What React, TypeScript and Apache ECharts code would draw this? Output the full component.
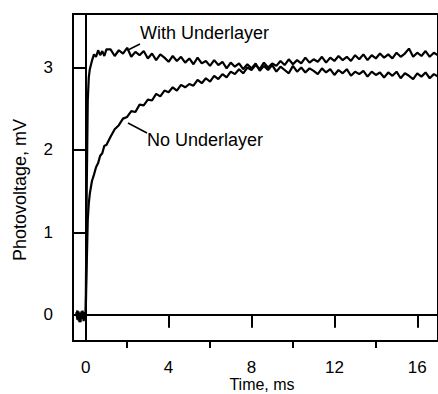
import React, { useEffect, useRef } from "react";
import * as echarts from "echarts";

const timeMs = [
  -0.45, -0.4, -0.35, -0.3, -0.25, -0.2, -0.15, -0.1, -0.05, 0,
  0.05, 0.1, 0.15, 0.2, 0.3, 0.4, 0.5, 0.6, 0.7, 0.8, 0.9, 1.0,
  1.2, 1.4, 1.6, 1.8, 2.0, 2.2, 2.4, 2.6, 2.8, 3.0,
  3.2, 3.4, 3.6, 3.8, 4.0, 4.2, 4.4, 4.6, 4.8, 5.0,
  5.2, 5.4, 5.6, 5.8, 6.0, 6.2, 6.4, 6.6, 6.8, 7.0,
  7.2, 7.4, 7.6, 7.8, 8.0, 8.2, 8.4, 8.6, 8.8, 9.0,
  9.2, 9.4, 9.6, 9.8, 10.0, 10.2, 10.4, 10.6, 10.8, 11.0,
  11.2, 11.4, 11.6, 11.8, 12.0, 12.2, 12.4, 12.6, 12.8, 13.0,
  13.2, 13.4, 13.6, 13.8, 14.0, 14.2, 14.4, 14.6, 14.8, 15.0,
  15.2, 15.4, 15.6, 15.8, 16.0, 16.2, 16.4, 16.6, 16.8, 17.0,
];

const withUnderlayer = [
  0.03, -0.06, 0.04, -0.09, 0.02, -0.05, 0.05, -0.08, 0.03, 0.0,
  1.5, 2.6, 2.88, 2.98, 3.08, 3.16, 3.13, 3.21, 3.15, 3.2, 3.14, 3.22,
  3.22, 3.14, 3.21, 3.17, 3.24, 3.13, 3.19, 3.15, 3.2, 3.11,
  3.17, 3.09, 3.16, 3.12, 3.07, 3.14, 3.08, 3.13, 3.06, 3.11,
  3.04, 3.12, 3.05, 3.08, 3.02, 3.09, 3.03, 3.07, 2.99, 3.06,
  3.01, 3.05, 2.98, 3.04, 2.99, 3.05, 2.96, 3.02, 2.97, 3.03,
  2.95, 3.01, 2.97, 2.93, 3.02, 2.95, 3.0, 2.94, 2.99, 2.96,
  2.92, 2.99, 2.94, 2.98, 2.91, 2.97, 2.93, 2.98, 2.9, 2.95,
  2.92, 2.96, 2.89, 2.95, 2.91, 2.94, 2.88, 2.94, 2.9, 2.95,
  2.87, 2.93, 2.9, 2.86, 2.93, 2.89, 2.94, 2.87, 2.92, 2.89,
];

const noUnderlayer = [
  -0.02, 0.05, -0.07, 0.02, -0.09, 0.04, -0.04, 0.03, -0.06, 0.0,
  0.6, 1.15, 1.35, 1.47, 1.62, 1.7, 1.79, 1.84, 1.93, 1.96, 2.05, 2.06,
  2.16, 2.25, 2.3, 2.38, 2.4, 2.47, 2.46, 2.55, 2.54, 2.61,
  2.6, 2.68, 2.65, 2.72, 2.7, 2.76, 2.72, 2.79, 2.76, 2.8,
  2.78, 2.85, 2.81, 2.87, 2.83, 2.9, 2.86, 2.92, 2.88, 2.95,
  2.92, 2.98, 2.93, 3.0, 2.97, 3.03, 2.98, 3.06, 3.0, 3.05,
  3.02, 3.08, 3.03, 3.1, 3.04, 3.09, 3.05, 3.12, 3.06, 3.1,
  3.07, 3.13, 3.06, 3.12, 3.08, 3.14, 3.09, 3.13, 3.08, 3.15,
  3.1, 3.16, 3.09, 3.15, 3.11, 3.17, 3.12, 3.16, 3.11, 3.18,
  3.13, 3.17, 3.23, 3.13, 3.18, 3.14, 3.2, 3.13, 3.18, 3.15,
];

const xMajorTicks = [0, 4, 8, 12, 16];
const xMinorTicks = [2, 6, 10, 14];
const yTicks = [0, 1, 2, 3];

const FONT = "Liberation Sans, Arial, sans-serif";

export default function App() {
  const ref = useRef<HTMLDivElement>(null);
  useEffect(() => {
    if (!ref.current) return;
    const chart = echarts.init(ref.current, null, { renderer: "svg" });
    const pairs = (ys: number[]) => timeMs.map((t, i) => [t, ys[i]]);
    const xMin = -0.612;
    const xMax = 17;
    const textStyle = (text: string, size: number, align: string) => ({
      text,
      fontFamily: FONT,
      fontSize: size,
      fill: "#000",
      textAlign: align,
      textVerticalAlign: "middle",
    });
    chart.setOption({
      animation: false,
      backgroundColor: "#fff",
      grid: {
        left: 73,
        top: 14,
        right: -9,
        bottom: 53,
        show: true,
        borderColor: "#000",
        borderWidth: 2,
        backgroundColor: "transparent",
      },
      xAxis: [
        {
          type: "value",
          min: xMin,
          max: xMax,
          axisLine: { show: false },
          splitLine: { show: false },
          axisTick: {
            show: true,
            customValues: xMajorTicks,
            length: 13,
            lineStyle: { color: "#000", width: 2 },
          },
          axisLabel: {
            customValues: xMajorTicks,
            margin: 18,
            color: "#000",
            fontFamily: FONT,
            fontSize: 17,
          },
        },
        {
          type: "value",
          min: xMin,
          max: xMax,
          position: "bottom",
          axisLine: { show: false },
          splitLine: { show: false },
          axisTick: {
            show: true,
            customValues: xMinorTicks,
            length: 7,
            lineStyle: { color: "#000", width: 2 },
          },
          axisLabel: { show: false },
        },
      ],
      yAxis: {
        type: "value",
        min: -0.32,
        max: 3.65,
        axisLine: { show: false },
        splitLine: { show: false },
        axisTick: {
          show: true,
          customValues: yTicks,
          length: 13,
          lineStyle: { color: "#000", width: 2 },
        },
        axisLabel: {
          customValues: yTicks,
          margin: 20,
          color: "#000",
          fontFamily: FONT,
          fontSize: 17,
        },
      },
      series: [
        {
          type: "line",
          data: pairs(noUnderlayer),
          showSymbol: false,
          symbol: "none",
          lineStyle: { color: "#000", width: 2.2 },
          markLine: {
            silent: true,
            symbol: "none",
            label: { show: false },
            lineStyle: { color: "#000", width: 2, type: "solid" },
            data: [{ yAxis: 0 }, { xAxis: 0 }],
          },
        },
        {
          type: "line",
          data: pairs(withUnderlayer),
          showSymbol: false,
          symbol: "none",
          lineStyle: { color: "#000", width: 2.2 },
        },
      ],
      graphic: [
        {
          type: "line",
          shape: { x1: 128, y1: 50, x2: 140, y2: 44 },
          style: { stroke: "#000", lineWidth: 1.5 },
        },
        {
          type: "line",
          shape: { x1: 128, y1: 123, x2: 147, y2: 133 },
          style: { stroke: "#000", lineWidth: 1.5 },
        },
        { type: "text", x: 140, y: 33, style: textStyle("With Underlayer", 18, "left") },
        { type: "text", x: 147, y: 140, style: textStyle("No Underlayer", 18, "left") },
        { type: "text", x: 262, y: 384, style: textStyle("Time, ms", 16, "center") },
        {
          type: "text",
          x: 20,
          y: 190,
          rotation: Math.PI / 2,
          style: textStyle("Photovoltage, mV", 18, "center"),
        },
      ],
    });
    return () => chart.dispose();
  }, []);
  return (
    <div
      ref={ref}
      style={{ position: "fixed", left: 0, top: 0, width: 438, height: 394 }}
    />
  );
}
